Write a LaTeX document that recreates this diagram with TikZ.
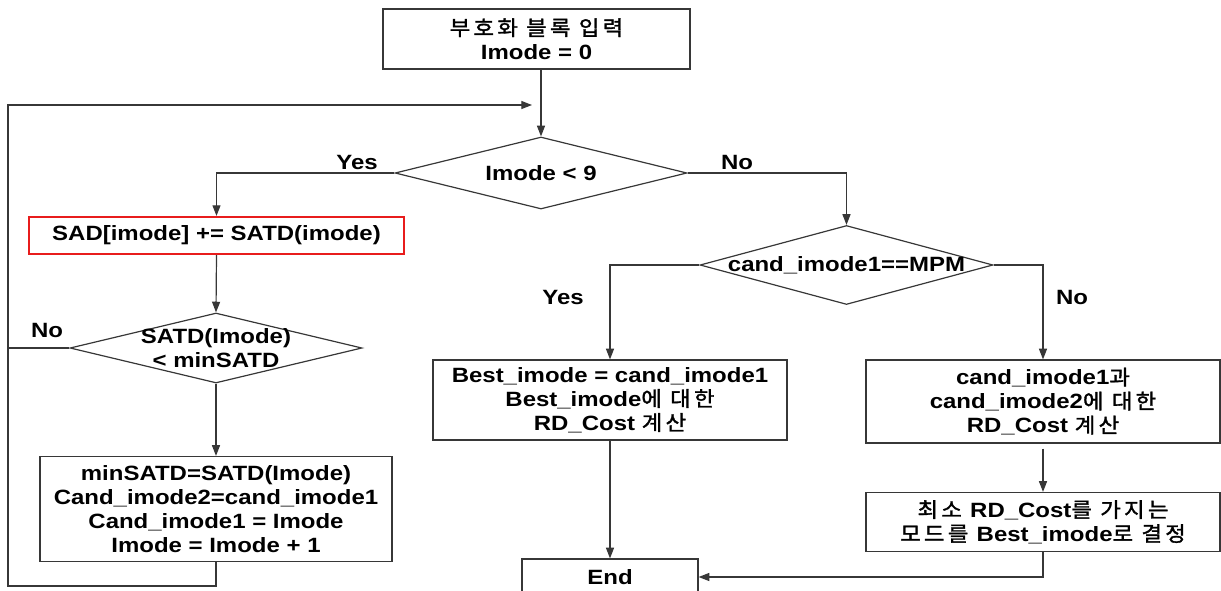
\documentclass[tikz,border=0pt]{standalone}
\usepackage{fontspec}
\setmainfont[FakeStretch=1.16]{Liberation Sans}
\newfontfamily\kr[FakeStretch=1.08,LetterSpace=16,FakeBold=1.6]{Noto Sans CJK KR}
\usetikzlibrary{shapes.geometric,arrows.meta}

\definecolor{linegray}{RGB}{55,55,55}
\definecolor{markred}{RGB}{232,28,28}
\newdimen\px \px=0.75pt
\newcommand\flowfont{\fontsize{15.5}{18}\selectfont\bfseries}
\newcommand\ko[1]{{\kr\mdseries #1}}

\tikzset{every picture/.style={line width=0.9pt}}

\begin{document}
\begin{tikzpicture}[x=0.75pt,y=0.75pt,yscale=-1,
  blk/.style={draw=linegray, inner sep=0pt, align=center, font=\flowfont},
  dec/.style={draw=linegray, shape=diamond, inner sep=0pt},
  lbl/.style={font=\flowfont, align=center},
  arr/.style={-{Triangle[length=8pt,width=6pt]}}]
\useasboundingbox (0,0) rectangle (1221,590);

%Boxes
\node[blk, minimum width=307\px, minimum height=60\px] (start) at (536.5,39) {\ko{부호화 블록 입력}\\Imode = 0};
\node[dec, minimum width=292\px, minimum height=72\px, label={[lbl]center:Imode < 9}] (cmp9) at (541,173) {};
\node[blk, draw=markred, line width=1.6pt, minimum width=375\px, minimum height=37\px] (sad) at (216.5,235.5) {SAD[imode] += SATD(imode)};
\node[dec, minimum width=292\px, minimum height=70\px, label={[lbl]center:SATD(Imode)\\< minSATD}] (cmpsatd) at (216,348) {};
\node[blk, minimum width=352\px, minimum height=105\px] (upd) at (216,509) {minSATD=SATD(Imode)\\Cand\_imode2=cand\_imode1\\Cand\_imode1 = Imode\\Imode = Imode + 1};
\node[dec, minimum width=293\px, minimum height=79\px, label={[lbl]center:cand\_imode1==MPM}] (cmpmpm) at (846.5,265) {};
\node[blk, minimum width=354\px, minimum height=80\px] (best) at (610,400) {Best\_imode = cand\_imode1\\Best\_imode\ko{에 대한}\\RD\_Cost \ko{계산}};
\node[blk, minimum width=354\px, minimum height=83\px] (cand) at (1043,401.5) {cand\_imode1\ko{과}\\cand\_imode2\ko{에 대한}\\RD\_Cost \ko{계산}};
\node[blk, minimum width=354\px, minimum height=59\px] (minrd) at (1043,522) {\ko{최소 }RD\_Cost\ko{를 가지는}\\\ko{모드를 }Best\_imode\ko{로 결정}};
\node[blk, minimum width=176\px, minimum height=36\px] (end) at (610,577) {End};

%Loop corners
\coordinate (loopbl) at (8,586);
\coordinate (looptl) at (8,105);
\coordinate (loopin) at (532,105);

%Connectors
\draw[draw=linegray, arr] (start.south -| cmp9.north) -- (cmp9.north);
\draw[draw=linegray, arr] (cmp9.west) -| (sad.north);
\draw[draw=linegray, arr] (sad.south) -- (cmpsatd.north);
\draw[draw=linegray, arr] (cmpsatd.south) -- (upd.north);
\draw[draw=linegray, arr] (upd.south) |- (loopbl) -- (looptl) -- (loopin);
\draw[draw=linegray] (cmpsatd.west) -- (cmpsatd.west -| loopbl);
\draw[draw=linegray, arr] (cmp9.east) -| (cmpmpm.north);
\draw[draw=linegray, arr] (cmpmpm.west) -| (best.north);
\draw[draw=linegray, arr] (cmpmpm.east) -| (cand.north);
\draw[draw=linegray, arr] (best.south) -- (end.north);
\draw[draw=linegray, arr, shorten <=5\px] (cand.south) -- (minrd.north);
\draw[draw=linegray, arr] (minrd.south) |- (end.east);

% Branch labels
\node[lbl] (yes1) at (357,162) {Yes};
\node[lbl] (no1) at (737,162) {No};
\node[lbl] (no2) at (47,330) {No};
\node[lbl] (yes2) at (563,297) {Yes};
\node[lbl] (no3) at (1072,297) {No};

\end{tikzpicture}
\end{document}
